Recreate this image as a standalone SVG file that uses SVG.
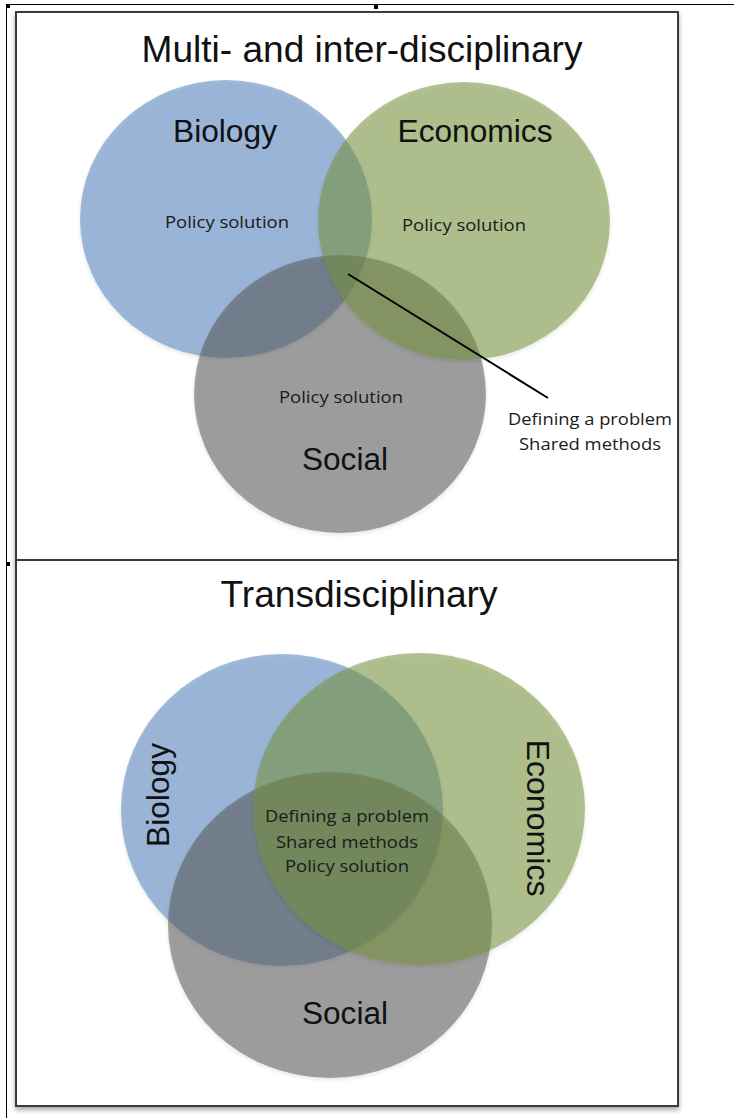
<svg xmlns="http://www.w3.org/2000/svg" width="734" height="1118" viewBox="0 0 734 1118">
  <style>
    .frame { fill: #ffffff; stroke: #3a3a3a; stroke-width: 2; }
    .bio { fill: #4f81bd; fill-opacity: 0.53; }
    .eco { fill: #76923c; fill-opacity: 0.54; }
    .soc { fill: #595959; fill-opacity: 0.54; }
    .title { font-family: "Liberation Sans", Arial, sans-serif; font-size: 36px; fill: #111; text-anchor: middle; }
    .big { font-family: "Liberation Sans", Arial, sans-serif; font-size: 31px; fill: #111; text-anchor: middle; }
    .small { font-family: "Open Sans", "Noto Sans", sans-serif; font-size: 17px; fill: #1a1a1a; text-anchor: middle; }
  </style>
  <defs>
    <filter id="boxShadow" x="-5%" y="-5%" width="110%" height="110%">
      <feGaussianBlur in="SourceAlpha" stdDeviation="2.5"/>
      <feOffset dx="0" dy="3" result="b"/>
      <feComponentTransfer><feFuncA type="linear" slope="0.35"/></feComponentTransfer>
      <feMerge><feMergeNode/><feMergeNode in="SourceGraphic"/></feMerge>
    </filter>
    <filter id="soft" x="-10%" y="-10%" width="120%" height="120%">
      <feGaussianBlur in="SourceAlpha" stdDeviation="2"/>
      <feOffset dx="0" dy="2"/>
      <feComponentTransfer><feFuncA type="linear" slope="0.18"/></feComponentTransfer>
      <feMerge><feMergeNode/><feMergeNode in="SourceGraphic"/></feMerge>
    </filter>
  </defs>

  <rect width="734" height="1118" fill="#ffffff"/>

  <!-- outer table rules -->
  <g id="table-rules" fill="#000">
    <line x1="6" y1="4.5" x2="734" y2="4.5" stroke="#000" stroke-width="1"/>
    <line x1="6.5" y1="4" x2="6.5" y2="1118" stroke="#000" stroke-width="1"/>
    <rect x="6" y="4" width="4" height="4"/>
    <rect x="374" y="5" width="4" height="4"/>
    <rect x="7" y="562" width="3" height="4"/>
  </g>

  <!-- panel frames -->
  <g id="panels">
    <rect id="panel-top" class="frame" x="16" y="12" width="662" height="548" filter="url(#boxShadow)"/>
    <rect id="panel-bottom" class="frame" x="16" y="560" width="662" height="546" filter="url(#boxShadow)"/>
  </g>

  <!-- upper panel: multi- and inter-disciplinary -->
  <text class="title" x="362" y="62" textLength="441" lengthAdjust="spacingAndGlyphs">Multi- and inter-disciplinary</text>

  <g id="top-biology" filter="url(#soft)">
    <ellipse class="bio" cx="226" cy="219" rx="146" ry="139"/>
  </g>
  <g id="top-social" filter="url(#soft)">
    <ellipse class="soc" cx="340" cy="394" rx="146" ry="139"/>
  </g>
  <g id="top-economics" filter="url(#soft)">
    <ellipse class="eco" cx="464" cy="221" rx="146" ry="139"/>
  </g>

  <g id="top-labels">
    <text class="big" x="225" y="142" textLength="104" lengthAdjust="spacingAndGlyphs">Biology</text>
    <text class="big" x="475" y="142" textLength="155" lengthAdjust="spacingAndGlyphs">Economics</text>
    <text class="big" x="345" y="470" textLength="86" lengthAdjust="spacingAndGlyphs">Social</text>
    <text class="small" x="227" y="228" textLength="124" lengthAdjust="spacingAndGlyphs">Policy solution</text>
    <text class="small" x="464" y="231" textLength="124" lengthAdjust="spacingAndGlyphs">Policy solution</text>
    <text class="small" x="341" y="403" textLength="124" lengthAdjust="spacingAndGlyphs">Policy solution</text>
  </g>

  <g id="connectors">
    <line x1="348" y1="274" x2="548" y2="398" stroke="#000" stroke-width="2"/>
  </g>

  <g id="top-callout">
    <text class="small" x="590" y="425" textLength="164" lengthAdjust="spacingAndGlyphs">Defining a problem</text>
    <text class="small" x="590" y="450" textLength="142" lengthAdjust="spacingAndGlyphs">Shared methods</text>
  </g>

  <!-- lower panel: transdisciplinary -->
  <text class="title" x="359" y="607" textLength="277" lengthAdjust="spacingAndGlyphs">Transdisciplinary</text>

  <g id="bottom-biology" filter="url(#soft)">
    <ellipse class="bio" cx="282" cy="810" rx="161" ry="156"/>
  </g>
  <g id="bottom-social" filter="url(#soft)">
    <ellipse class="soc" cx="330" cy="925" rx="162" ry="153"/>
  </g>
  <g id="bottom-economics" filter="url(#soft)">
    <ellipse class="eco" cx="419" cy="809" rx="166" ry="156"/>
  </g>

  <g id="bottom-labels">
    <text class="big" transform="translate(169,795) rotate(-90)" textLength="104" lengthAdjust="spacingAndGlyphs">Biology</text>
    <text class="big" transform="translate(527,818) rotate(90)" textLength="157" lengthAdjust="spacingAndGlyphs">Economics</text>
    <text class="big" x="345" y="1024" textLength="86" lengthAdjust="spacingAndGlyphs">Social</text>
    <text class="small" x="347" y="822" textLength="164" lengthAdjust="spacingAndGlyphs">Defining a problem</text>
    <text class="small" x="347" y="848" textLength="142" lengthAdjust="spacingAndGlyphs">Shared methods</text>
    <text class="small" x="347" y="872" textLength="124" lengthAdjust="spacingAndGlyphs">Policy solution</text>
  </g>
</svg>
